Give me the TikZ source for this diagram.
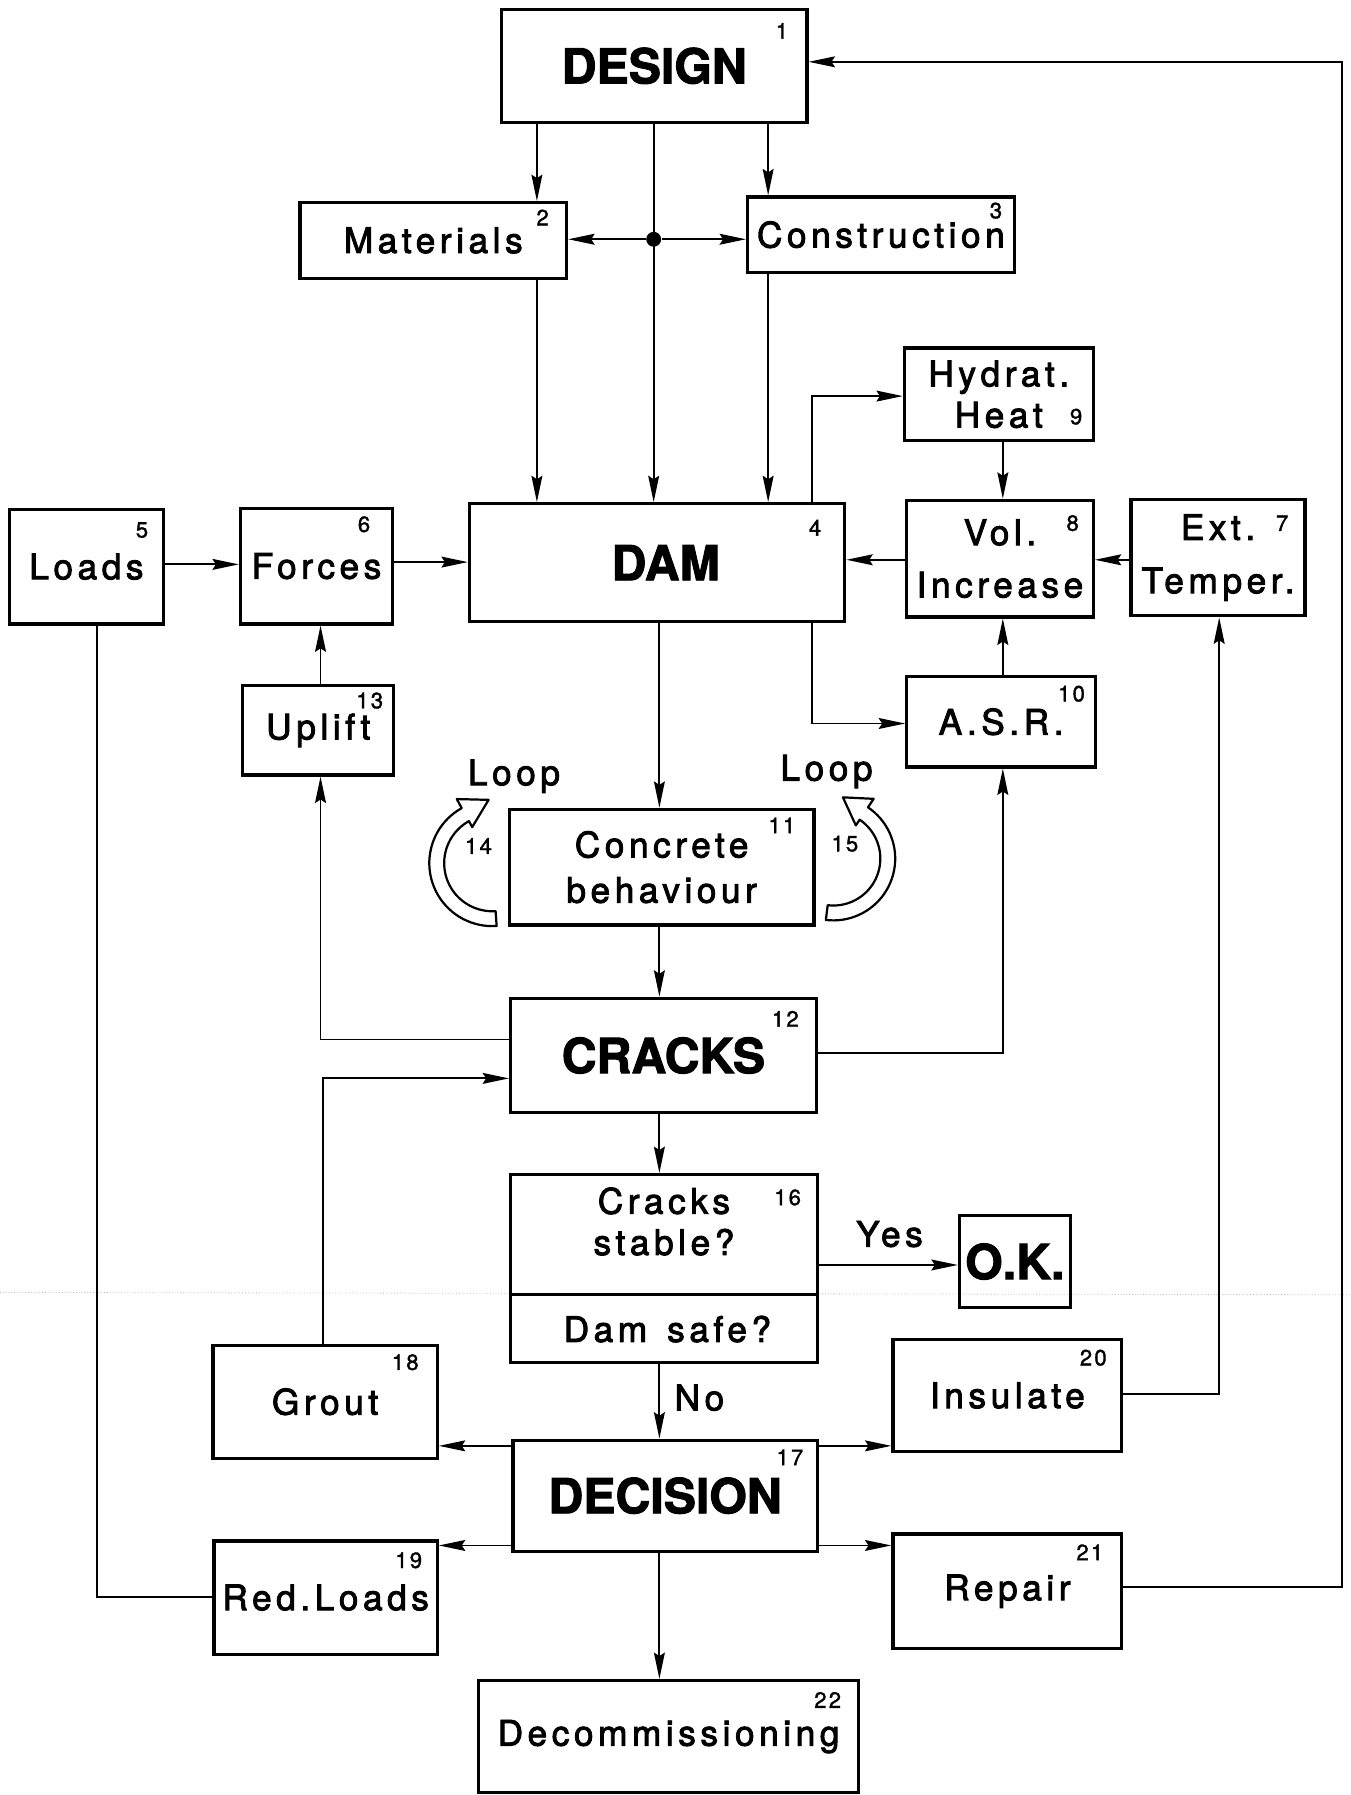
\documentclass[tikz,border=0pt]{standalone}
\usepackage{fontspec}
\usetikzlibrary{arrows.meta,calc}
\newfontfamily\labfam{TeX Gyre Heros}[LetterSpace=13,FakeBold=2.5]
\newfontfamily\numfam{TeX Gyre Heros}[LetterSpace=10,FakeBold=1.5]
\newfontfamily\bigfam{TeX Gyre Heros}[BoldFeatures={FakeBold=2}]
\newcommand\LabF{\labfam\fontsize{17.5}{20.5}\selectfont}
\newcommand\NumF{\numfam\fontsize{11}{13}\selectfont}
\newcommand\BigF{\bigfam\bfseries\fontsize{24}{28}\selectfont}
\tikzset{
  blk/.style={draw, line width=1.6pt, rectangle, inner sep=0pt, align=center, font=\LabF},
  bigblk/.style={blk, font=\BigF},
  num/.style={inner sep=0pt, font=\NumF},
  txt/.style={inner sep=0pt, font=\LabF, align=center},
  con/.style={line width=0.9pt},
  arr/.style={con, -{Stealth[length=0.46cm,width=0.19cm,inset=0.06cm]}},
  looparrow/.style={fill=white, draw=black, line width=1.1pt, line join=round},
}
\begin{document}
\begin{tikzpicture}[x=0.02cm,y=-0.02cm]
\useasboundingbox (0,0) rectangle (1180,1568);
% faint scan line across the page
\draw[gray!55, line width=0.4pt, densely dotted] (0,1129) -- (1180,1131);

% boxes
\node[bigblk, minimum width=5.34cm, minimum height=1.98cm] (n1) at (571.5,57.5) {DESIGN};
\node[blk, minimum width=4.66cm, minimum height=1.32cm] (n2) at (378.5,210) {Materials};
\node[blk, minimum width=4.66cm, minimum height=1.32cm] (n3) at (769.5,205) {Construction};
\node[bigblk, minimum width=6.56cm, minimum height=2.06cm] (n4) at (574,491.5) {\hspace{0.3cm}DAM};
\node[blk, minimum width=2.70cm, minimum height=2.00cm] (n5) at (75.5,495) {Loads};
\node[blk, minimum width=2.66cm, minimum height=2.02cm] (n6) at (276.5,494.5) {Forces};
\node[blk, minimum width=3.04cm, minimum height=2.04cm] (n7) at (1064,487) {Ext.\\[6pt]Temper.};
\node[blk, minimum width=3.26cm, minimum height=2.04cm] (n8) at (873.5,488) {Vol.\\[5.5pt]Increase};
\node[blk, minimum width=3.30cm, minimum height=1.62cm] (n9) at (872.5,344.5) {Hydrat.\\Heat};
\node[blk, minimum width=3.30cm, minimum height=1.58cm] (n10) at (874.5,630.5) {A.S.R.};
\node[blk, minimum width=5.32cm, minimum height=2.02cm] (n11) at (578,757.5) {Concrete\\[2pt]behaviour};
\node[bigblk, minimum width=5.34cm, minimum height=2.00cm] (n12) at (579.5,922) {CRACKS};
\node[blk, minimum width=2.64cm, minimum height=1.56cm] (n13) at (278,638) {Uplift};
\node[blk, minimum width=5.36cm, minimum height=3.28cm] (n16) at (580,1108) {};
\node[bigblk, minimum width=1.94cm, minimum height=1.60cm] (nOK) at (886.5,1102) {O.K.};
\node[bigblk, minimum width=5.32cm, minimum height=1.94cm] (n17) at (581,1306.5) {DECISION};
\node[blk, minimum width=3.92cm, minimum height=1.98cm] (n18) at (284,1224.5) {Grout};
\node[blk, minimum width=3.90cm, minimum height=1.98cm] (n19) at (284.5,1395.5) {Red.Loads};
\node[blk, minimum width=4.00cm, minimum height=1.96cm] (n20) at (880,1219) {Insulate};
\node[blk, minimum width=4.00cm, minimum height=2.00cm] (n21) at (880,1390) {Repair};
\node[blk, minimum width=6.64cm, minimum height=1.96cm] (n22) at (584,1517) {Decommissioning};

% decision box content
\node[txt] (t16a) at (580,1067) {Cracks\\stable?};
\node[txt] (t16b) at (583,1161) {Dam\hspace{0.35cm}safe?};
\coordinate (yDiv) at (0,1131);
\draw[line width=1.4pt] (n16.west |- yDiv) -- (n16.east |- yDiv);

% numbers
\node[num] (m1) at (683,27) {1};
\node[num] (m2) at (474,190) {2};
\node[num] (m3) at (870,184) {3};
\node[num] (m4) at (712,461) {4};
\node[num] (m5) at (124,463) {5};
\node[num] (m6) at (318,458) {6};
\node[num] (m7) at (1120,457) {7};
\node[num] (m8) at (937,457) {8};
\node[num] (m9) at (940,364) {9};
\node[num] (m10) at (936,606) {10};
\node[num] (m11) at (683,721) {11};
\node[num] (m12) at (686,890) {12};
\node[num] (m13) at (323,612) {13};
\node[num] (m14) at (418,739) {14};
\node[num] (m15) at (738,737) {15};
\node[num] (m16) at (688,1046) {16};
\node[num] (m17) at (690,1273) {17};
\node[num] (m18) at (354,1190) {18};
\node[num] (m19) at (357,1363) {19};
\node[num] (m20) at (955,1186) {20};
\node[num] (m21) at (952,1356) {21};
\node[num] (m22) at (723,1485) {22};

% other labels
\node[txt] (lLoopA) at (449,678) {Loop};
\node[txt] (lLoopB) at (722,674) {Loop};
\node[txt] (lYes) at (777,1078) {Yes};
\node[txt] (lNo) at (611,1221) {No};

% lanes
\coordinate (xA) at (469,0);
\coordinate (xB) at (571,0);
\coordinate (xC) at (671,0);
\coordinate (xD) at (709,0);
\coordinate (xE) at (876,0);
\coordinate (xF) at (1065,0);
\coordinate (xG) at (1172,0);
\coordinate (xH) at (85,0);
\coordinate (xU) at (280,0);
\coordinate (xGr) at (282,0);
\coordinate (xM) at (576,0);

\node[circle, fill=black, inner sep=0pt, minimum size=0.26cm] (dot) at (571,209) {};

% connectors top
\draw[arr] (n1.south -| xA) -- (n2.north -| xA);
\draw[arr] (n1.south -| xB) -- (n4.north -| xB);
\draw[arr] (n1.south -| xC) -- (n3.north -| xC);
\draw[arr] (dot) -- (n2.east |- dot);
\draw[arr] (dot) -- (n3.west |- dot);
\draw[arr] (n2.south -| xA) -- (n4.north -| xA);
\draw[arr] (n3.south -| xC) -- (n4.north -| xC);

\coordinate (yLF) at (0,493);
\coordinate (yFD) at (0,491);
\coordinate (yH) at (0,346);
\coordinate (yVD) at (0,489);
\coordinate (yA) at (0,632);
\draw[arr] (n5.east |- yLF) -- (n6.west |- yLF);
\draw[arr] (n6.east |- yFD) -- (n4.west |- yFD);
\draw[arr] (n4.north -| xD) -- (xD |- yH) -- (n9.west |- yH);
\draw[arr] (n9.south -| xE) -- (n8.north -| xE);
\draw[arr] (n8.west |- yVD) -- (n4.east |- yVD);
\draw[arr] (n7.west |- yVD) -- (n8.east |- yVD);
\draw[arr] (n10.north -| xE) -- (n8.south -| xE);
\draw[arr] (n4.south -| xD) -- (xD |- yA) -- (n10.west |- yA);
\draw[arr] (n13.north -| xU) -- (n6.south -| xU);

% main chain
\draw[arr] (n4.south -| xM) -- (n11.north -| xM);
\draw[arr] (n11.south -| xM) -- (n12.north -| xM);
\draw[arr] (n12.south -| xM) -- (n16.north -| xM);
\draw[arr] (n16.south -| xM) -- (n17.north -| xM);
\draw[arr] (n17.south -| xM) -- (n22.north -| xM);

\coordinate (yCU) at (0,908);
\coordinate (yGC) at (0,942);
\coordinate (yCA) at (0,920);
\coordinate (yOK) at (0,1105);
\coordinate (yG) at (0,1263);
\coordinate (yR) at (0,1350);
\coordinate (yI) at (0,1218);
\coordinate (yRL) at (0,1395);
\coordinate (yRp) at (0,1386);
\coordinate (yTop) at (0,54);
\draw[arr] (n12.west |- yCU) -- (xU |- yCU) -- (n13.south -| xU);
\draw[arr] (n18.north -| xGr) -- (xGr |- yGC) -- (n12.west |- yGC);
\draw[arr] (n12.east |- yCA) -- (xE |- yCA) -- (n10.south -| xE);
\draw[arr] (n16.east |- yOK) -- (nOK.west |- yOK);
\draw[arr] (n17.west |- yG) -- (n18.east |- yG);
\draw[arr] (n17.east |- yG) -- (n20.west |- yG);
\draw[arr] (n17.west |- yR) -- (n19.east |- yR);
\draw[arr] (n17.east |- yR) -- (n21.west |- yR);
\draw[arr] (n20.east |- yI) -- (xF |- yI) -- (n7.south -| xF);
\draw[con] (n19.west |- yRL) -- (xH |- yRL) -- (n5.south -| xH);
\draw[arr] (n21.east |- yRp) -- (xG |- yRp) -- (xG |- yTop) -- (n1.east |- yTop);

% loop arrows
\filldraw[looparrow]
  plot[domain=0:155, samples=40] ({430+55*cos(86+\x)},{754+55*sin(86+\x)})
  -- (399,698) -- (426.8,698.7) -- (412.5,722.5)
  -- plot[domain=0:155, samples=40] ({430+42*cos(241-\x)},{754+42*sin(241-\x)})
  -- cycle;
\filldraw[looparrow]
  plot[domain=0:153, samples=40] ({728+54*cos(97-\x)},{750+54*sin(97-\x)})
  -- (763.2,697.8) -- (736.3,696.5) -- (747.6,721)
  -- plot[domain=0:153, samples=40] ({728+41*cos(-56+\x)},{750+41*sin(-56+\x)})
  -- cycle;
\end{tikzpicture}
\end{document}
